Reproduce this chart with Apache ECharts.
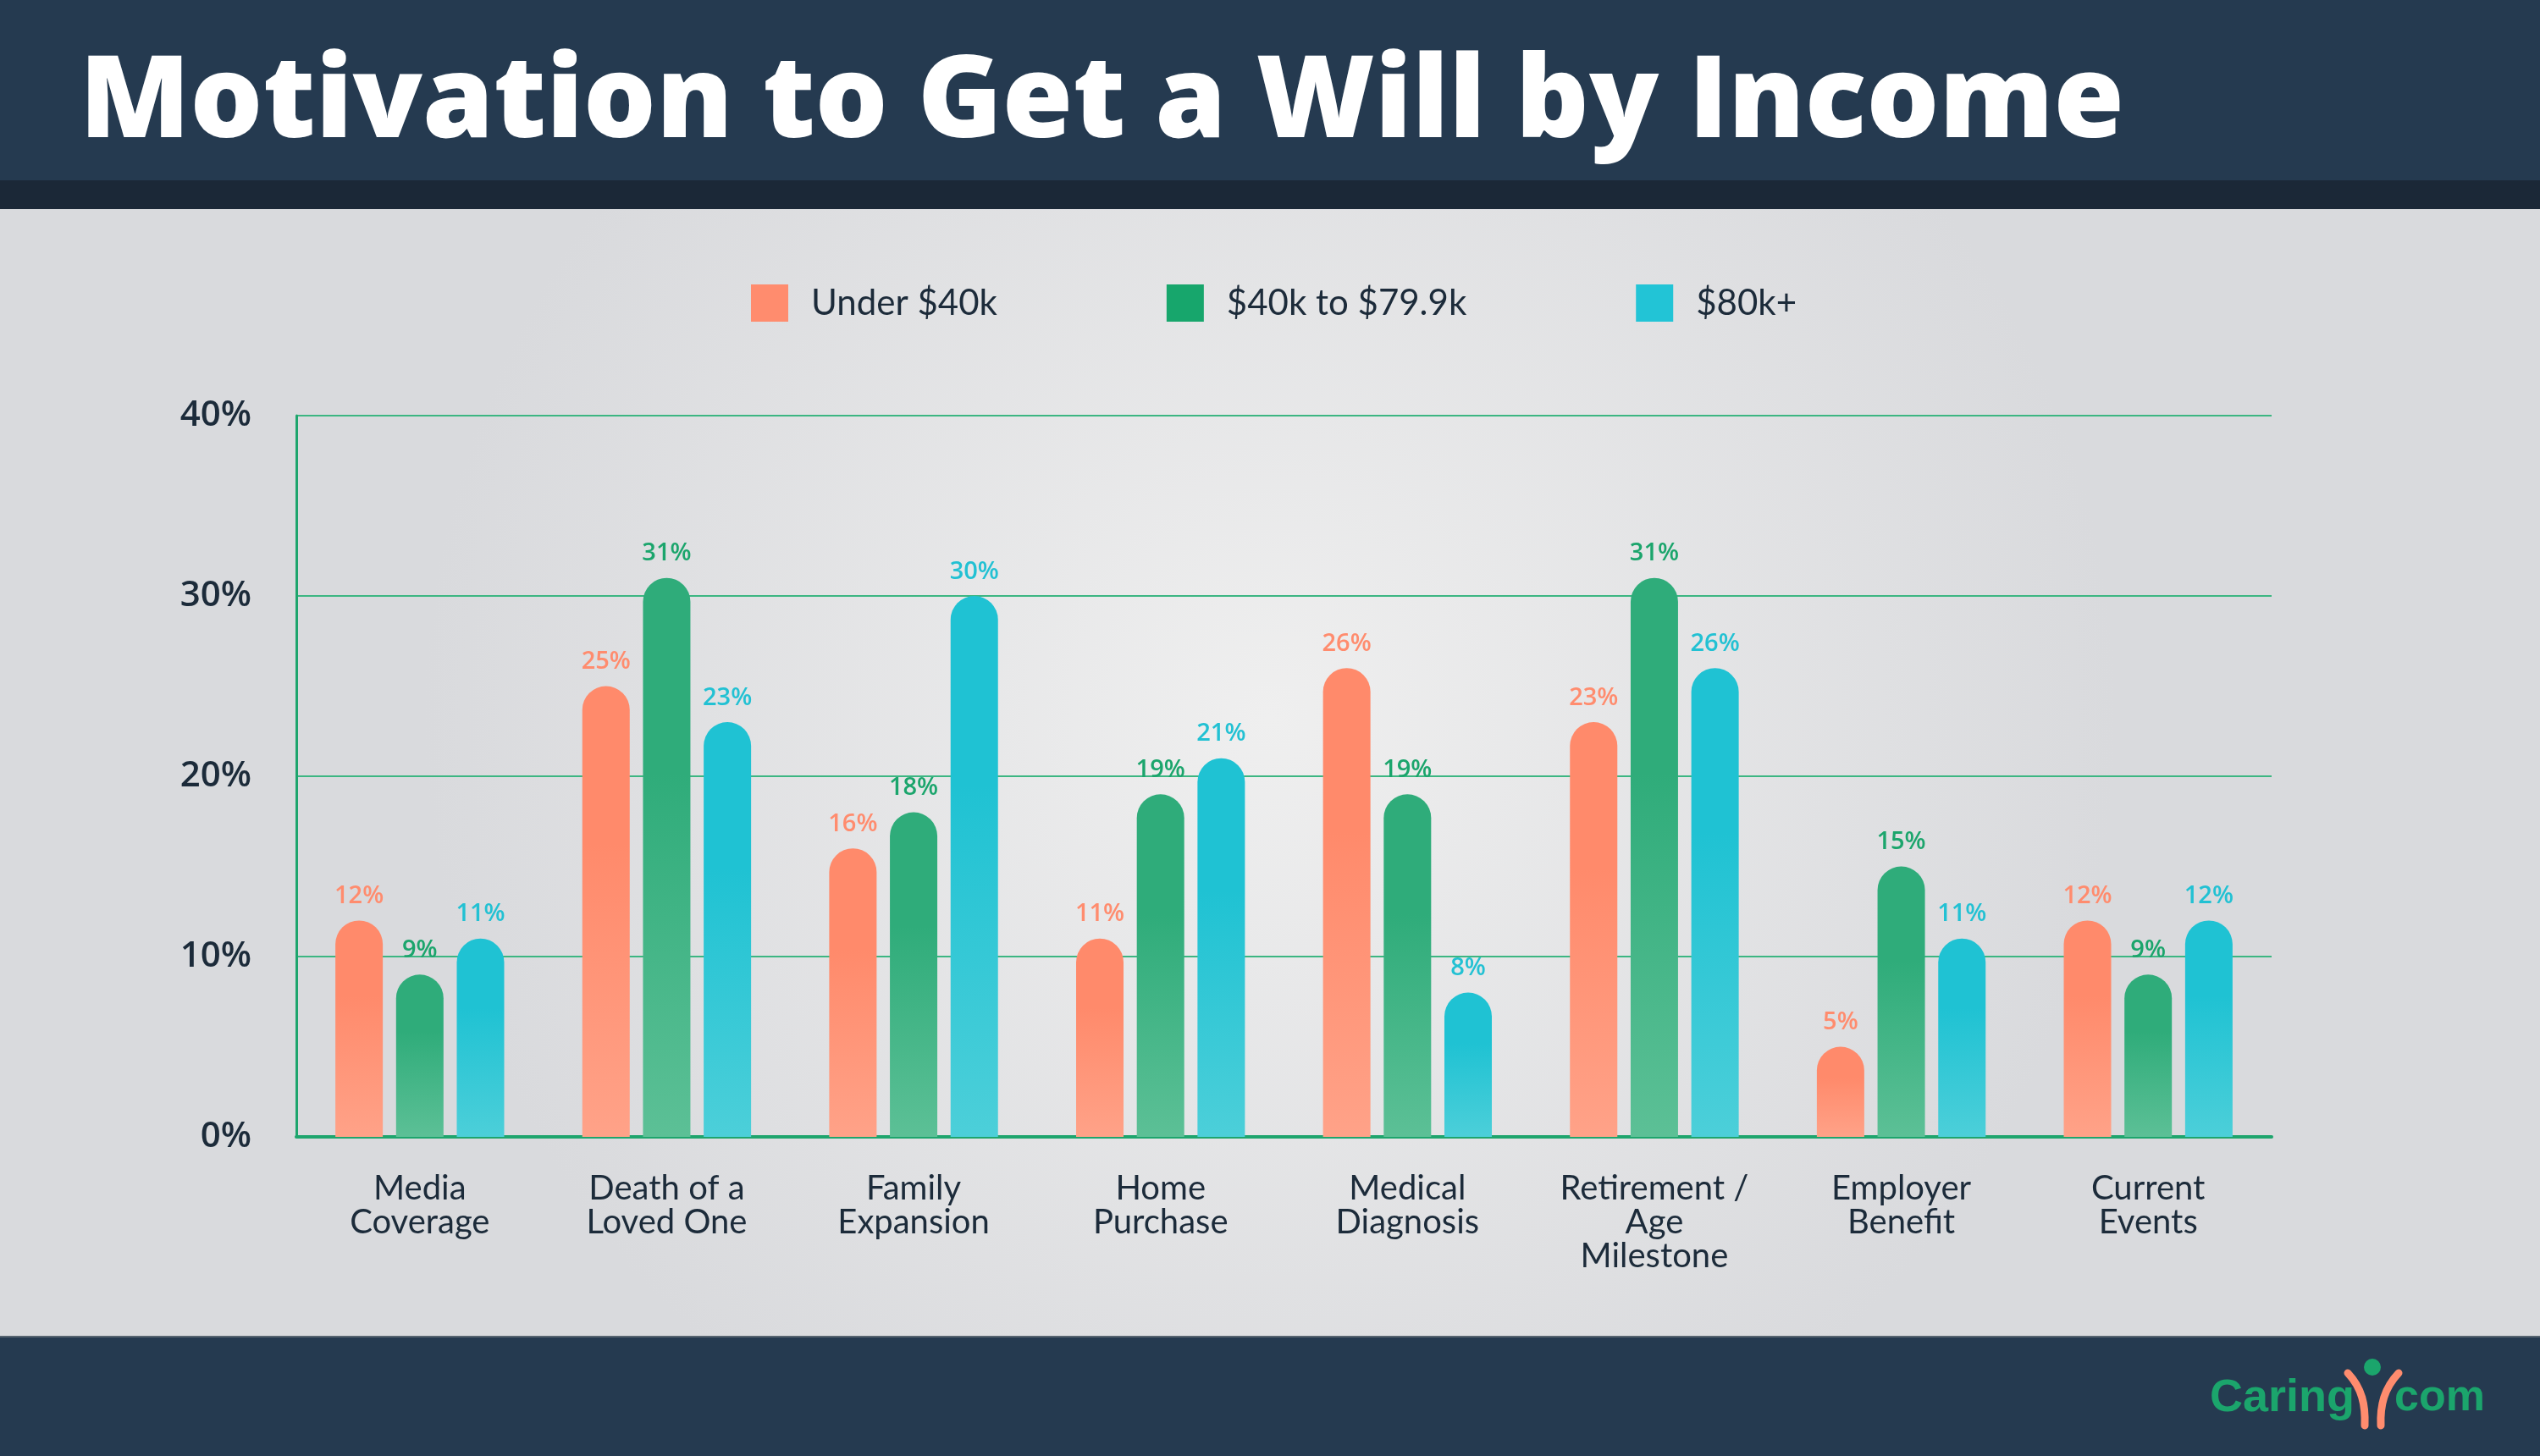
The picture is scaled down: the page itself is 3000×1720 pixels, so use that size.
<!DOCTYPE html>
<html><head><meta charset="utf-8">
<script src="https://cdn.jsdelivr.net/npm/echarts@6/dist/echarts.min.js"></script>
<style>html,body{margin:0;padding:0;background:#e4e5e7}#c{width:3000px;height:1720px}</style>
</head><body><div id="c"></div>
<script>
const titleText = 'Motivation to Get a Will by Income';
const categories = ['Media\nCoverage','Death of a\nLoved One','Family\nExpansion','Home\nPurchase','Medical\nDiagnosis','Retirement /\nAge\nMilestone','Employer\nBenefit','Current\nEvents'];
const seriesNames = ['Under $40k','$40k to $79.9k','$80k+'];
const under40k = [12,25,16,11,26,23,5,12];
const from40kTo80k = [9,31,18,19,19,31,15,9];
const over80k = [11,23,30,21,8,26,11,12];
const yMin = 0, yMax = 40, yStep = 10;

const legendColors = ['#ff8c6e','#17a66c','#22c4d6'];
const labelColors = ['#ff8c6e','#1ba56c','#22c1d3'];
const gradTop = ['#ff8a6b','#2fac7a','#1fc2d3'];
const gradBot = ['#ffa288','#5cc096','#4ccfd9'];
const dataSets = [under40k, from40kTo80k, over80k];

const chart = echarts.init(document.getElementById('c'), null, {renderer:'canvas'});

const series = dataSets.map((d,i)=>({
  name: seriesNames[i],
  type: 'bar',
  data: d,
  barWidth: 56,
  barGap: '28%',
  itemStyle: {
    borderRadius: [28,28,0,0],
    color: new echarts.graphic.LinearGradient(0,0,0,1,[
      {offset:0,color:gradTop[i]},{offset:0.35,color:gradTop[i]},{offset:1,color:gradBot[i]}])
  },
  label: {
    show: true, position: 'top', distance: 14,
    formatter: '{c}%',
    color: labelColors[i], fontFamily: 'Open Sans', fontWeight: 600, fontSize: 29
  },
  z: 3
}));

chart.setOption({
  animation: false,
  color: legendColors,
  graphic: [
    {type:'rect', z:-10, silent:true, shape:{x:0,y:247,width:3000,height:1332},
     style:{fill:new echarts.graphic.RadialGradient(0.5,0.45,0.75,[{offset:0,color:'#efefef'},{offset:1,color:'#d9dadd'}])}},
    {type:'rect', z:-5, shape:{x:0,y:0,width:3000,height:213}, style:{fill:'#253a50'}},
    {type:'rect', z:-5, shape:{x:0,y:213,width:3000,height:34}, style:{fill:'#1b2837'}},
    {type:'rect', z:-5, shape:{x:0,y:1578,width:3000,height:142}, style:{fill:'#253a50'}},
    {type:'rect', z:-4, shape:{x:0,y:1578,width:3000,height:2}, style:{fill:'#56636f'}},
    {type:'text', z:5, x:94, y:124, style:{text:titleText, fill:'#ffffff', font:'800 135px "Open Sans"', verticalAlign:'middle', align:'left'}},
    {type:'text', z:5, x:2610, y:1652, style:{text:'Caring', fill:'#1ba56c', font:'bold 54px "Liberation Sans"', verticalAlign:'middle', align:'left'}},
    {type:'text', z:5, x:2828, y:1652, style:{text:'com', fill:'#1ba56c', font:'bold 52px "Liberation Sans"', verticalAlign:'middle', align:'left'}},
    {type:'bezierCurve', z:5, shape:{x1:2773,y1:1622,x2:2793,y2:1684,cpx1:2790,cpy1:1640,cpx2:2794,cpy2:1660}, style:{stroke:'#ff8c6e', lineWidth:9, lineCap:'round', fill:null}},
    {type:'bezierCurve', z:5, shape:{x1:2833,y1:1622,x2:2812,y2:1684,cpx1:2816,cpy1:1640,cpx2:2811,cpy2:1660}, style:{stroke:'#ff8c6e', lineWidth:9, lineCap:'round', fill:null}},
    {type:'circle', z:5, shape:{cx:2802,cy:1615,r:10}, style:{fill:'#1ba56c'}}
  ],
  legend: {
    left: 882, top: 331,
    itemWidth: 44, itemHeight: 44, itemGap: 200,
    icon: 'rect',
    data: seriesNames.map((n,i)=>({name:n, itemStyle:{color:legendColors[i]}})),
    textStyle: {fontFamily:'Lato', fontSize: 42, color:'#1c2b3a', padding:[0,0,0,22]}
  },
  grid: {left: 350, right: 317, top: 491, bottom: 377, containLabel: false},
  xAxis: {
    type: 'category', data: categories,
    axisLine: {show:true, lineStyle:{color:'#1ea56d', width:4}},
    axisTick: {show:false},
    axisLabel: {fontFamily:'Lato', fontSize: 40, color:'#1c2b3a', lineHeight: 40, margin: 41, interval: 0}
  },
  yAxis: {
    type: 'value', min: yMin, max: yMax, interval: yStep,
    axisLine: {show:true, lineStyle:{color:'#1ea56d', width:3}},
    axisTick: {show:false},
    splitLine: {lineStyle:{color:'#3cb682', width:2}},
    axisLabel: {formatter:'{value}%', fontFamily:'Open Sans', fontWeight:600, fontSize: 42, color:'#1c2b3a', margin: 53}
  },
  series: series
});
</script></body></html>
